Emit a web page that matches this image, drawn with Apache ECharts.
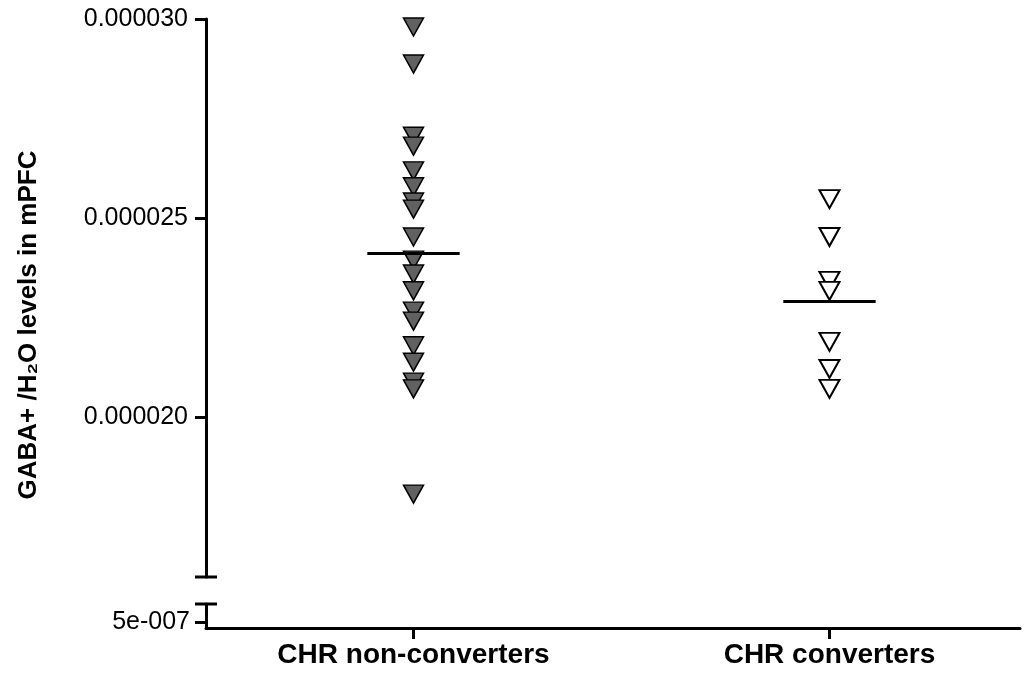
<!DOCTYPE html>
<html>
<head>
<meta charset="utf-8">
<script src="https://cdn.jsdelivr.net/npm/echarts@6/dist/echarts.min.js"></script>
<style>
  html, body { margin: 0; background: #fff; }
  #chart { width: 1031px; height: 675px; }
</style>
</head>
<body>
<div id="chart"></div>
<script>
  // data
  const categories = ['CHR non-converters', 'CHR converters']
  const nonConverters = [
    0.00002980, 0.00002887, 0.00002706, 0.00002681, 0.00002619, 0.00002579,
    0.00002541, 0.00002523, 0.00002453, 0.00002395, 0.00002360, 0.00002318,
    0.00002267, 0.00002242, 0.00002180, 0.00002139, 0.00002089, 0.00002072,
    0.00001808
  ]
  const converters = [
    0.00002548, 0.00002453, 0.00002343, 0.00002318, 0.00002190, 0.00002122,
    0.00002072
  ]
  const upperTicks = [0.000020, 0.000025, 0.000030]
  const lowerTicks = [5e-7]

  const FONT = '"Liberation Sans", Arial, sans-serif'
  const xMin = -0.4988
  const xMax = 1.458
  const meanHalf = 0.111

  function mean(arr) {
    return arr.reduce((a, b) => a + b, 0) / arr.length
  }

  function sciLabel(v) {
    // GraphPad style exponent, e.g. 5e-007
    return v.toExponential(0).replace(/e([+-])(\d+)/, (m, s, d) => 'e' + s + d.padStart(3, '0'))
  }

  function meanLine(arr, x) {
    const m = mean(arr)
    return {
      symbol: ['none', 'none'],
      silent: true,
      label: {show: false},
      lineStyle: {color: '#000', width: 3, type: 'solid'},
      data: [[{coord: [x - meanHalf, m]}, {coord: [x + meanHalf, m]}]]
    }
  }

  const chart = echarts.init(document.getElementById('chart'))

  chart.setOption({
    animation: false,
    backgroundColor: '#fff',
    grid: [
      {left: 206, right: 11, top: 19, height: 558},
      {left: 206, right: 11, top: 604, height: 24}
    ],
    xAxis: [
      {
        gridIndex: 0,
        type: 'value',
        min: xMin,
        max: xMax,
        show: false
      },
      {
        gridIndex: 1,
        type: 'value',
        min: xMin,
        max: xMax,
        axisLine: {show: true, onZero: false, lineStyle: {color: '#000', width: 3}},
        axisTick: {show: true, customValues: [0, 1], length: 11, lineStyle: {color: '#000', width: 3}},
        axisLabel: {
          customValues: [0, 1],
          formatter: v => categories[Math.round(v)],
          color: '#000',
          fontFamily: FONT,
          fontWeight: 'bold',
          fontSize: 28,
          margin: 13
        },
        splitLine: {show: false}
      }
    ],
    yAxis: [
      {
        gridIndex: 0,
        type: 'value',
        min: 0.000016,
        max: 0.000030,
        name: 'GABA+ /H₂O levels in mPFC',
        nameLocation: 'middle',
        nameGap: 164,
        nameTextStyle: {
          color: '#000',
          fontFamily: FONT,
          fontWeight: 'bold',
          fontSize: 26,
          padding: [0, 54, 0, 0]
        },
        axisLine: {show: true, onZero: false, lineStyle: {color: '#000', width: 3}},
        axisTick: {show: true, customValues: upperTicks, length: 11, lineStyle: {color: '#000', width: 3}},
        axisLabel: {
          customValues: upperTicks,
          formatter: v => v.toFixed(6),
          color: '#000',
          fontFamily: FONT,
          fontSize: 25,
          margin: 18
        },
        splitLine: {show: false}
      },
      {
        gridIndex: 1,
        type: 'value',
        min: 0,
        max: 0.000002,
        axisLine: {show: true, onZero: false, lineStyle: {color: '#000', width: 3}},
        axisTick: {show: true, customValues: lowerTicks, length: 11, lineStyle: {color: '#000', width: 3}},
        axisLabel: {
          customValues: lowerTicks,
          formatter: sciLabel,
          color: '#000',
          fontFamily: FONT,
          fontSize: 25,
          margin: 16
        },
        splitLine: {show: false}
      }
    ],
    series: [
      {
        name: categories[0],
        type: 'scatter',
        xAxisIndex: 0,
        yAxisIndex: 0,
        clip: false,
        symbol: 'triangle',
        symbolRotate: 180,
        symbolSize: [20, 18],
        itemStyle: {color: '#616161', borderColor: '#000', borderWidth: 1.5, opacity: 1},
        data: nonConverters.map(v => [0, v]),
        markLine: meanLine(nonConverters, 0)
      },
      {
        name: categories[1],
        type: 'scatter',
        xAxisIndex: 0,
        yAxisIndex: 0,
        clip: false,
        symbol: 'triangle',
        symbolRotate: 180,
        symbolSize: [20, 18],
        itemStyle: {color: '#fff', borderColor: '#000', borderWidth: 2, opacity: 1},
        data: converters.map(v => [1, v]),
        markLine: meanLine(converters, 1)
      }
    ]
  })

  // caps at both ends of the axis break
  const capTop = chart.convertToPixel({gridIndex: 0}, [xMin, 0.000016])
  const capBottom = chart.convertToPixel({gridIndex: 1}, [xMin, 0.000002])
  const cap = p => ({
    type: 'line',
    silent: true,
    shape: {x1: p[0] - 11, y1: p[1], x2: p[0] + 11, y2: p[1]},
    style: {stroke: '#000', lineWidth: 3}
  })
  chart.setOption({graphic: [cap(capTop), cap(capBottom)]})
</script>
</body>
</html>
